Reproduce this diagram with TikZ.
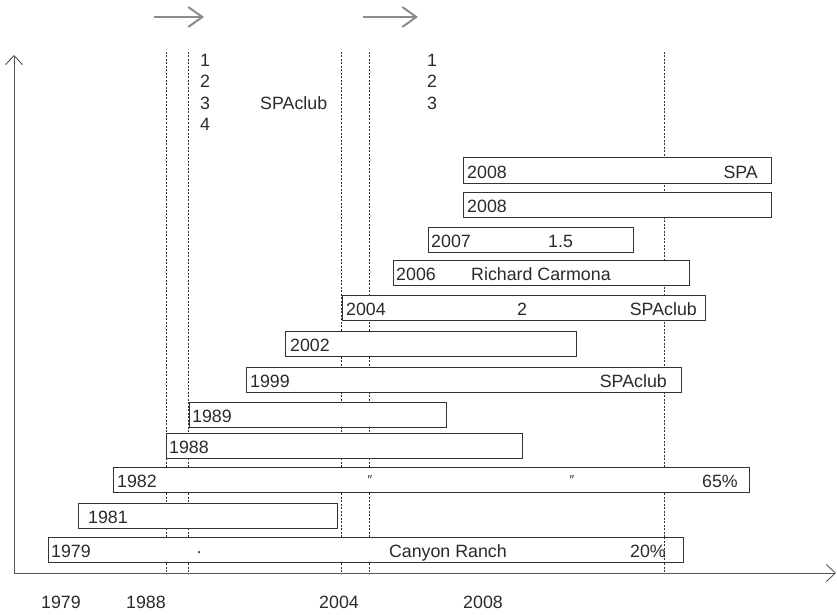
\documentclass[tikz,border=0pt]{standalone}
\usepackage{fontspec}
\setmainfont{Liberation Sans}
\usetikzlibrary{arrows.meta}
\definecolor{boxc}{HTML}{333333}
\definecolor{txtc}{HTML}{2A2A2A}
\definecolor{dashc}{HTML}{333333}
\definecolor{axc}{HTML}{555555}
\definecolor{garc}{HTML}{8C8C8C}
\begin{document}
\begin{tikzpicture}[x=1pt,y=-1pt,
  bx/.style={draw=boxc, fill=white, line width=0.9pt, inner sep=0pt, anchor=north west},
  lbl/.style={inner sep=0pt, anchor=base west, text=txtc, font=\fontsize{17.8}{20}\selectfont},
  lble/.style={lbl, anchor=base east},
  lblc/.style={lbl, anchor=base},
  dl/.style={draw=dashc, line width=0.8pt, dash pattern=on 2pt off 1.5pt},
  axisline/.style={draw=axc, line width=0.9pt, -{Straight Barb[length=9pt,width=17pt]}},
  garrow/.style={draw=garc, line width=2pt, -{Straight Barb[length=14pt,width=20pt]}}]
\useasboundingbox (0,0) rectangle (837,615);

% coordinates
\coordinate (o) at (14,573);
\coordinate (ytip) at (14,55);
\coordinate (xtip) at (836,573);
\coordinate (g1s) at (154,17); \coordinate (g1e) at (204,17);
\coordinate (g2s) at (363,17); \coordinate (g2e) at (418,17);
\foreach \n/\x in {1/166,2/188,3/341,4/369,5/664}{
  \coordinate (d\n t) at (\x,52);
  \coordinate (d\n b) at (\x,573);
}

% gray arrows
\draw[garrow] (g1s) -- (g1e);
\draw[garrow] (g2s) -- (g2e);

% dashed lines
\foreach \n in {1,...,5}{ \draw[dl] (d\n t) -- (d\n b); }

% axes
\draw[axisline] (o) -- (ytip);
\draw[axisline] (o) -- (xtip);

% top texts
\node[lbl] (n11) at (200,67) {1};
\node[lbl] (n12) at (200,88) {2};
\node[lbl] (n13) at (200,110) {3};
\node[lbl] (n14) at (200,131) {4};
\node[lbl] (spa0) at (260,110) {SPAclub};
\node[lbl] (n21) at (427,67) {1};
\node[lbl] (n22) at (427,88) {2};
\node[lbl] (n23) at (427,110) {3};

% boxes
\node[bx, minimum width=308pt, minimum height=26pt] (b1) at (463,157) {};
\node[lbl] (t1) at (467,178) {2008};
\node[lble] (t1b) at (758,178) {SPA};

\node[bx, minimum width=308pt, minimum height=25pt] (b2) at (463,192) {};
\node[lbl] (t2) at (467,212) {2008};

\node[bx, minimum width=205pt, minimum height=25pt] (b3) at (428,227) {};
\node[lbl] (t3) at (431,247) {2007};
\node[lbl] (t3b) at (548,247) {1.5};

\node[bx, minimum width=296pt, minimum height=25pt] (b4) at (393,260) {};
\node[lbl] (t4) at (396,280) {2006};
\node[lbl] (t4b) at (471,280) {Richard Carmona};

\node[bx, minimum width=363pt, minimum height=25pt] (b5) at (342,295) {};
\node[lbl] (t5) at (346,315) {2004};
\node[lbl] (t5b) at (517,315) {2};
\node[lble] (t5c) at (697,315) {SPAclub};

\node[bx, minimum width=291pt, minimum height=25pt] (b6) at (285,331) {};
\node[lbl] (t6) at (290,351) {2002};

\node[bx, minimum width=435pt, minimum height=25pt] (b7) at (246,367) {};
\node[lbl] (t7) at (250,387) {1999};
\node[lble] (t7b) at (667,387) {SPAclub};

\node[bx, minimum width=257pt, minimum height=25pt] (b8) at (189,402) {};
\node[lbl] (t8) at (192,422) {1989};

\node[bx, minimum width=356pt, minimum height=25pt] (b9) at (166,433) {};
\node[lbl] (t9) at (169,453) {1988};

\node[bx, minimum width=636pt, minimum height=25pt] (b10) at (113,467) {};
\node[lbl] (t10) at (117,487) {1982};
\node[lblc, font=\fontsize{13}{14}\selectfont] (q1) at (370,484) {″};
\node[lblc, font=\fontsize{13}{14}\selectfont] (q2) at (572,484) {″};
\node[lble] (t10b) at (738,487) {65\%};

\node[bx, minimum width=259pt, minimum height=25pt] (b11) at (78,503) {};
\node[lbl] (t11) at (88,523) {1981};

\node[bx, minimum width=635pt, minimum height=25pt] (b12) at (48,537) {};
\draw[dl] (664,537) -- (664,562);
\node[lbl] (t12) at (51,557) {1979};
\node[lblc] (t12a) at (199,557) {·};
\node[lble] (t12b) at (507,557) {Canyon Ranch};
\node[lble] (t12c) at (666,557) {20\%};

% bottom year labels
\node[lblc] (y1) at (61,608) {1979};
\node[lblc] (y2) at (146,608) {1988};
\node[lblc] (y3) at (339,608) {2004};
\node[lblc] (y4) at (483,608) {2008};
\end{tikzpicture}
\end{document}
